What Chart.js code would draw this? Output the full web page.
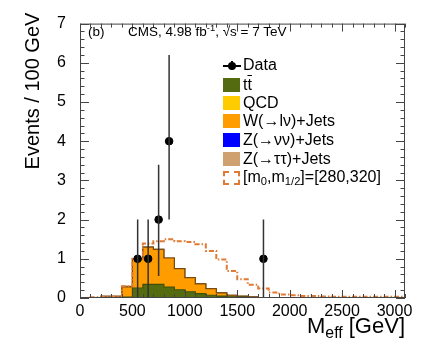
<!DOCTYPE html>
<html>
<head>
<meta charset="utf-8">
<script src="https://cdn.jsdelivr.net/npm/chart.js@4.4.0/dist/chart.umd.min.js"></script>
<style>
body { margin: 0; background: #fff; font-family: "Liberation Sans", Arial, sans-serif; }
#wrap { position: relative; width: 422px; height: 346px; }
.t { position: absolute; white-space: nowrap; color: #000; line-height: 1; }
.box { position: absolute; left: 223px; width: 17px; height: 14px; }
sub { font-size: 0.7em; vertical-align: -0.3em; line-height: 0; }
sup { font-size: 0.7em; vertical-align: 0.5em; line-height: 0; }
</style>
</head>
<body>
<div id="wrap">
  <canvas id="chart" width="422" height="346"></canvas>

  <div class="t" style="left:88px; top:25px; font-size:13.5px;">(b)</div>
  <div class="t" style="left:128px; top:25px; font-size:13.5px;">CMS, 4.98 fb<sup>-1</sup>, √s = 7 TeV</div>

  <div class="t" style="left:-68px; top:81px; width:200px; text-align:center; font-size:20px; transform:rotate(-90deg);">Events / 100 GeV</div>
  <div class="t" style="right:17px; top:315px; font-size:22px;">M<sub style="font-size:0.72em;">eff</sub> [GeV]</div>

  <!-- legende -->
  <div style="position:absolute; left:223px; top:65px; width:18px; height:1.5px; background:#000;"></div>
  <div style="position:absolute; left:231px; top:61px; width:1.5px; height:9px; background:#000;"></div>
  <div style="position:absolute; left:228px; top:62px; width:8px; height:8px; border-radius:50%; background:#000;"></div>
  <div class="t" style="left:243px; top:57px; font-size:16px;">Data</div>

  <div class="box" style="top:78px; background:#556b10;"></div>
  <div class="t" style="left:243px; top:77px; font-size:16px;">t<span style="text-decoration:overline;">t</span></div>
  <div class="box" style="top:96px; background:#ffcc00;"></div>
  <div class="t" style="left:243px; top:95px; font-size:16px;">QCD</div>
  <div class="box" style="top:114px; background:#ff9c00;"></div>
  <div class="t" style="left:243px; top:113px; font-size:16px;">W(→lν)+Jets</div>
  <div class="box" style="top:133px; background:#0000ff;"></div>
  <div class="t" style="left:243px; top:132px; font-size:16px;">Z(→νν)+Jets</div>
  <div class="box" style="top:152px; background:#cfa070;"></div>
  <div class="t" style="left:243px; top:151px; font-size:16px;">Z(→ττ)+Jets</div>
  <div class="box" style="top:171px; box-sizing:border-box; border:2px dashed #e07a35;"></div>
  <div class="t" style="left:243px; top:169px; font-size:16px;">[m<sub>0</sub>,m<sub>1/2</sub>]=[280,320]</div>
</div>

<script>
// bins de 100 GeV (bord gauche)
const binLow = [0, 100, 200, 300, 400, 500, 600, 700, 800, 900, 1000, 1100, 1200, 1300, 1400, 1500,
                1600, 1700, 1800, 1900, 2000, 2100, 2200, 2300, 2400, 2500, 2600, 2700, 2800, 2900, 3000];
const xMax = 3100;

// fonds empiles (evenements / 100 GeV)
const ttbar = [0, 0, 0, 0, 0, 0.02, 0.25, 0.35, 0.35, 0.28, 0.21, 0.16, 0.11, 0.07, 0.05, 0.03,
               0.02, 0.01, 0, 0, 0, 0, 0, 0, 0, 0, 0, 0, 0, 0, 0];
const qcd   = [0, 0, 0, 0, 0, 0, 0, 0, 0, 0, 0, 0, 0, 0, 0, 0,
               0, 0, 0, 0, 0, 0, 0, 0, 0, 0, 0, 0, 0, 0, 0];
const wjets = [0, 0, 0, 0, 0, 0.26, 0.75, 0.95, 0.89, 0.74, 0.54, 0.36, 0.25, 0.17, 0.08, 0.04,
               0.02, 0.01, 0, 0, 0, 0, 0, 0, 0, 0, 0, 0, 0, 0, 0];
const znunu = [0, 0, 0, 0, 0, 0, 0, 0, 0, 0, 0, 0, 0, 0, 0, 0,
               0, 0, 0, 0, 0, 0, 0, 0, 0, 0, 0, 0, 0, 0, 0];
const ztautau = [0, 0, 0, 0.05, 0.05, 0.02, 0, 0, 0, 0, 0, 0, 0, 0, 0, 0,
                 0.01, 0.01, 0, 0, 0, 0, 0, 0, 0, 0, 0, 0, 0, 0, 0];

// signal LM [m0,m1/2]=[280,320]
const signal = [0, 0, 0.02, 0.03, 0.03, 0.30, 1.0, 1.39, 1.45, 1.50, 1.45, 1.43, 1.37, 1.20, 0.98, 0.69,
                0.48, 0.34, 0.24, 0.14, 0.09, 0.07, 0.05, 0.05, 0.04, 0.03, 0.03, 0.03, 0.03, 0.03, 0.03];

// donnees
const dataX  = [550, 650, 750, 850, 1750];
const dataY  = [1, 1, 2, 4, 1];
const errLo  = [1, 1, 1.44, 2.0, 1];
const errHi  = [1, 1, 1.4, 2.2, 1];

const yTicks = [0, 1, 2, 3, 4, 5, 6, 7];
const xTicks = [0, 500, 1000, 1500, 2000, 2500, 3000];

// somme cumulee pour l'empilement
function cumulate(...parts) {
  return binLow.map((_, i) => parts.reduce((s, p) => s + p[i], 0));
}
function steps(vals) {
  const pts = binLow.map((b, i) => ({ x: b, y: vals[i] }));
  pts.push({ x: xMax, y: vals[vals.length - 1] });
  return pts;
}

const c1 = cumulate(ttbar);
const c2 = cumulate(ttbar, qcd);
const c3 = cumulate(ttbar, qcd, wjets);
const c4 = cumulate(ttbar, qcd, wjets, znunu);
const c5 = cumulate(ttbar, qcd, wjets, znunu, ztautau);

function histo(vals, fillColor, lineColor, fill) {
  return {
    data: steps(vals), stepped: 'after', fill: fill,
    backgroundColor: fillColor, borderColor: lineColor, borderWidth: 1.2,
    pointRadius: 0, order: 3
  };
}

const errorBars = {
  id: 'errorBars',
  afterDatasetsDraw(chart) {
    const { ctx, scales: { x, y } } = chart;
    ctx.save();
    ctx.strokeStyle = '#333';
    ctx.lineWidth = 1.5;
    ctx.beginPath();
    dataX.forEach((v, i) => {
      const px = x.getPixelForValue(v);
      ctx.moveTo(px, y.getPixelForValue(dataY[i] - errLo[i]));
      ctx.lineTo(px, y.getPixelForValue(dataY[i] + errHi[i]));
    });
    ctx.stroke();
    ctx.restore();
  }
};

// cadre + graduations a l'interieur, facon ROOT
const frameTicks = {
  id: 'frameTicks',
  afterDraw(chart) {
    const { ctx, chartArea: a, scales: { x, y } } = chart;
    ctx.save();
    ctx.strokeStyle = '#444';
    ctx.lineWidth = 1;
    ctx.strokeRect(a.left + 0.5, a.top + 0.5, a.right - a.left - 1, a.bottom - a.top - 1);
    ctx.beginPath();
    for (let v = 0; v <= 3100; v += 100) {
      const px = Math.round(x.getPixelForValue(v)) + 0.5;
      const len = v % 500 === 0 ? 8 : 4;
      ctx.moveTo(px, a.bottom); ctx.lineTo(px, a.bottom - len);
      ctx.moveTo(px, a.top); ctx.lineTo(px, a.top + len);
    }
    for (let i = 0; i <= 35; i++) {
      const py = Math.round(y.getPixelForValue(i / 5)) + 0.5;
      const len = i % 5 === 0 ? 9 : 4.5;
      ctx.moveTo(a.left, py); ctx.lineTo(a.left + len, py);
      ctx.moveTo(a.right, py); ctx.lineTo(a.right - len, py);
    }
    ctx.stroke();
    ctx.restore();
  }
};

new Chart(document.getElementById('chart'), {
  type: 'line',
  data: {
    datasets: [
      histo(c1, '#556b10', '#3e5008', 'origin'),
      histo(c2, '#ffcc00', 'rgba(0,0,0,0)', '-1'),
      histo(c3, '#ff9c00', '#7a4a10', '-1'),
      histo(c4, '#0000ff', 'rgba(0,0,0,0)', '-1'),
      histo(c5, '#cfa070', '#7a4a10', '-1'),
      {
        data: steps(signal), stepped: 'after', fill: false,
        borderColor: '#e07a35', borderWidth: 2, borderDash: [5, 2, 1.5, 2],
        pointRadius: 0, order: 2
      },
      {
        data: dataX.map((v, i) => ({ x: v, y: dataY[i] })),
        showLine: false, pointRadius: 3.8,
        pointBackgroundColor: '#000', pointBorderColor: '#000', order: 0
      }
    ]
  },
  options: {
    responsive: false,
    animation: false,
    layout: { padding: { top: 13, right: 17, left: 0, bottom: 0 } },
    plugins: { legend: { display: false }, tooltip: { enabled: false } },
    scales: {
      x: {
        type: 'linear', min: 0, max: xMax,
        grid: { display: false, drawTicks: false },
        border: { display: false },
        afterBuildTicks: s => { s.ticks = xTicks.map(v => ({ value: v })); },
        ticks: { padding: 4, maxRotation: 0, color: '#000',
                 callback: v => String(v),
                 font: { family: '"Liberation Sans", Arial', size: 16 } },
        afterFit: s => { s.height = 48; }
      },
      y: {
        min: 0, max: 7,
        grid: { display: false, drawTicks: false },
        border: { display: false },
        afterBuildTicks: s => { s.ticks = yTicks.map(v => ({ value: v })); },
        ticks: { padding: 14, color: '#000',
                 callback: v => String(v),
                 font: { family: '"Liberation Sans", Arial', size: 16 } },
        afterFit: s => { s.width = 80; }
      }
    }
  },
  plugins: [errorBars, frameTicks]
});
</script>
</body>
</html>
